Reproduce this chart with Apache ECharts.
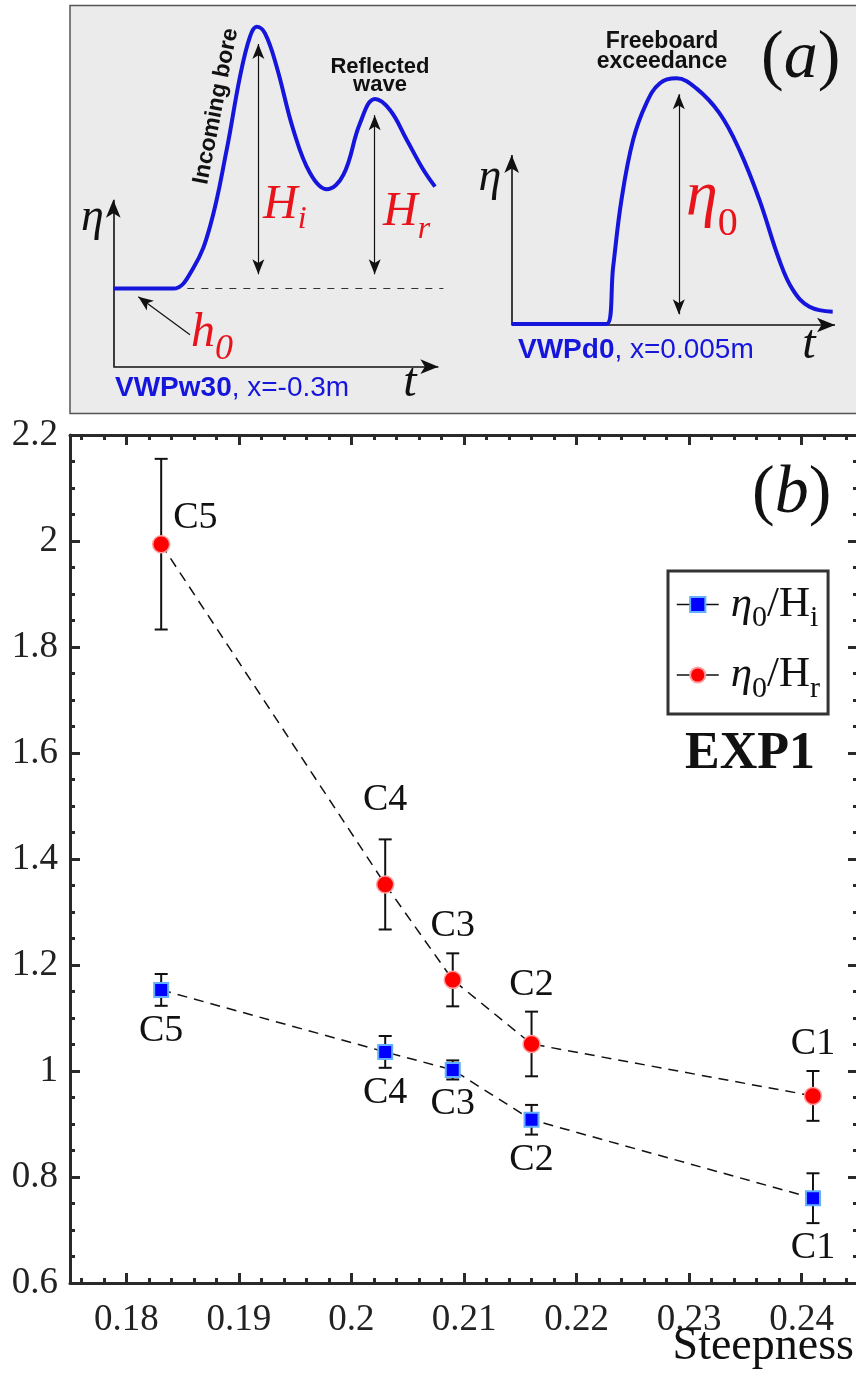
<!DOCTYPE html>
<html><head><meta charset="utf-8">
<script src="https://cdn.jsdelivr.net/npm/echarts@6/dist/echarts.min.js"></script>
<style>html,body{margin:0;padding:0;background:#fff}#c{width:856px;height:1377px}</style>
</head><body><div id="c"></div>
<script>
// ---------- data: panel (b) ----------
const cases     = ['C5', 'C4', 'C3', 'C2', 'C1'];
const steepness = [0.1831, 0.2030, 0.2090, 0.2160, 0.2410];
const ratioHr   = [1.994, 1.352, 1.172, 1.051, 0.953];
const errHr     = [0.161, 0.085, 0.050, 0.061, 0.047];
const ratioHi   = [1.153, 1.036, 1.002, 0.908, 0.760];
const errHi     = [0.030, 0.030, 0.018, 0.028, 0.047];
const xTickLabels = [0.18, 0.19, 0.20, 0.21, 0.22, 0.23, 0.24];
const yTickLabels = [0.6, 0.8, 1.0, 1.2, 1.4, 1.6, 1.8, 2.0, 2.2];
// ---------- data: panel (a) schematic curves (arbitrary units) ----------
const boreT     = [0, 10, 18, 24, 29, 34, 38, 41, 43, 45.5, 49, 54, 59, 64, 69, 74, 78.5, 83, 88, 93, 96.5];
const boreEta   = [21.3, 21.3, 21.3, 26.9, 38.2, 59.1, 79.1, 90.0, 92.7, 90.9, 81.8, 64.6, 52.8, 48.4, 52.3, 66.4, 73.0, 70.0, 61.9, 53.7, 49.1];
const exceedT   = [0, 15, 28.6, 30.6, 33.1, 36.6, 40.6, 44.7, 49.7, 55.7, 62.7, 68.7, 74.7, 80.7, 84.8, 89.8, 96.8];
const exceedEta = [0.3, 0.3, 0.3, 17.9, 38.5, 56.9, 68.2, 74.4, 75.9, 72.8, 65.1, 53.8, 38.5, 20.0, 10.8, 5.6, 4.1];

const SERIF = '"Liberation Serif","Times New Roman",serif';
const SANS = '"Liberation Sans",Arial,sans-serif';
const AX = '#2a2a2a', BLUE = '#1515dc', RED = '#e8141c', INK = '#111';
const X0 = 0.175, X1 = 0.245, Y0 = 0.6, Y1 = 2.2;

const xMinor = [], yMinor = [];
for (let v = 176; v <= 244; v += 2) if (v % 10) xMinor.push(v / 1000);
for (let v = 65; v <= 215; v += 5) if (v % 20) yMinor.push(v / 100);

const fmt = v => String(+(+v).toFixed(3));

// measuring helper for chained texts
const mctx = document.createElement('canvas').getContext('2d');
function F(size, st, wt, fam) { return (st || 'normal') + ' ' + (wt || 'normal') + ' ' + size + 'px ' + (fam || SERIF); }
function measure(t, f) { mctx.font = f; return mctx.measureText(t).width; }
function T(x, base, text, size, o) {
  o = o || {};
  const f = F(size, o.st, o.wt, o.fam);
  const al = o.align || 'left';
  return { type: 'text', z: 100, x: x, y: base - 0.34 * size, rotation: o.rot || 0,
    style: { text: text, font: f, fill: o.color || INK, align: al, textAlign: al,
      verticalAlign: 'middle', textVerticalAlign: 'middle', lineHeight: o.lh } };
}
function chain(x, pieces) {
  const out = [];
  pieces.forEach(p => {
    out.push(T(x, p.base, p.t, p.size, p));
    x += measure(p.t, F(p.size, p.st, p.wt, p.fam));
  });
  return out;
}

// ---------- error bars + case labels ----------
function makeErr(where) {
  return function (params, api) {
    const i = params.dataIndex;
    const x = api.value(0), y = api.value(1), e = api.value(2);
    const p = api.coord([x, y]), t = api.coord([x, y + e]), b = api.coord([x, y - e]);
    const cw = 6.5, ls = { stroke: INK, lineWidth: 2 };
    let lx = p[0], ly, al = 'center';
    if (where === 'above') {
      if (i === 0) { lx = p[0] + 12; ly = p[1] - 26; al = 'left'; }
      else ly = t[1] - (i === 1 ? 39 : 27);
    } else ly = b[1] + 25;
    return { type: 'group', children: [
      { type: 'line', shape: { x1: t[0], y1: t[1], x2: b[0], y2: b[1] }, style: ls },
      { type: 'line', shape: { x1: t[0] - cw, y1: t[1], x2: t[0] + cw, y2: t[1] }, style: ls },
      { type: 'line', shape: { x1: b[0] - cw, y1: b[1], x2: b[0] + cw, y2: b[1] }, style: ls },
      { type: 'text', x: lx, y: ly, style: { text: cases[i], font: F(38), fill: INK, align: al, textAlign: al, verticalAlign: 'middle', textVerticalAlign: 'middle' } }
    ] };
  };
}

// ---------- axes helpers ----------
function mainX(pos, ticks, len, label, line) {
  return { gridIndex: 0, type: 'value', min: X0, max: X1, position: pos,
    axisLine: { show: line, onZero: false, lineStyle: { color: AX, width: 3 } },
    axisTick: { show: true, inside: true, length: len, customValues: ticks, lineStyle: { color: AX, width: 3 } },
    axisLabel: label ? { show: true, customValues: xTickLabels, formatter: fmt, margin: 19, color: '#222', fontFamily: SERIF, fontSize: 37 } : { show: false },
    splitLine: { show: false } };
}
function mainY(pos, ticks, len, label, line) {
  return { gridIndex: 0, type: 'value', min: Y0, max: Y1, position: pos,
    axisLine: { show: line, onZero: false, lineStyle: { color: AX, width: 3 } },
    axisTick: { show: true, inside: true, length: len, customValues: ticks, lineStyle: { color: AX, width: 3 } },
    axisLabel: label ? { show: true, customValues: yTickLabels, formatter: fmt, margin: 12, color: '#222', fontFamily: SERIF, fontSize: 37 } : { show: false },
    splitLine: { show: false } };
}
function hiddenAxis(g) { return { gridIndex: g, type: 'value', min: 0, max: 100, show: false }; }

// ---------- schematic annotation lines ----------
function seg(a, b, s1, s2, style, size) {
  return [{ coord: a, symbol: s1, symbolSize: size, lineStyle: style }, { coord: b, symbol: s2, symbolSize: size }];
}
const axStyle = { color: INK, width: 1.6, type: 'solid' };
const arStyle = { color: INK, width: 1.2, type: 'solid' };
const leftMarks = [
  seg([0, 0], [97.5, 0], 'none', 'arrow', axStyle, [11, 18]),
  seg([0, 0], [0, 45.5], 'none', 'arrow', axStyle, [11, 18]),
  seg([18, 21.3], [99, 21.3], 'none', 'none', { color: '#333', width: 1.2, type: [7, 7] }, 1),
  seg([43.5, 88], [43.5, 25.2], 'arrow', 'arrow', arStyle, [9, 15]),
  seg([78.4, 68.6], [78.4, 25.2], 'arrow', 'arrow', arStyle, [9, 15]),
  seg([23, 8.7], [7.5, 19.1], 'none', 'arrow', arStyle, [9, 15])
];
const rightMarks = [
  seg([0, 0], [97.5, 0], 'none', 'arrow', axStyle, [11, 18]),
  seg([0, 0], [0, 52.3], 'none', 'arrow', axStyle, [11, 18]),
  seg([50.4, 71], [50.4, 3.3], 'arrow', 'arrow', arStyle, [9, 15])
];

// ---------- graphic texts ----------
const g = [
  { type: 'rect', z: -10, shape: { x: 70, y: 5.5, width: 800, height: 408 }, style: { fill: '#ebebeb', stroke: '#555', lineWidth: 1.5 } },
  T(216, 114, 'Incoming bore', 23, { wt: 'bold', fam: SANS, align: 'center', rot: 79 * Math.PI / 180 }),
  { type: 'text', z: 100, x: 380, y: 76, style: { text: 'Reflected\nwave', font: F(22, 'normal', 'bold', SANS), fill: INK, align: 'center', textAlign: 'center', verticalAlign: 'middle', textVerticalAlign: 'middle', lineHeight: 18 } },
  { type: 'text', z: 100, x: 662, y: 52, style: { text: 'Freeboard\nexceedance', font: F(23, 'normal', 'bold', SANS), fill: INK, align: 'center', textAlign: 'center', verticalAlign: 'middle', textVerticalAlign: 'middle', lineHeight: 20 } },
  ...chain(115, [{ t: 'VWPw30', base: 398, size: 28, wt: 'bold', fam: SANS, color: BLUE }, { t: ', x=-0.3m', base: 398, size: 28, fam: SANS, color: BLUE }]),
  ...chain(518, [{ t: 'VWPd0', base: 360, size: 28, wt: 'bold', fam: SANS, color: BLUE }, { t: ', x=0.005m', base: 360, size: 28, fam: SANS, color: BLUE }]),
  T(92.5, 234, 'η', 46, { st: 'italic', align: 'center' }),
  T(490, 194, 'η', 46, { st: 'italic', align: 'center' }),
  T(410, 400, 't', 48, { st: 'italic', align: 'center' }),
  T(809, 362, 't', 48, { st: 'italic', align: 'center' }),
  ...chain(263, [{ t: 'H', base: 221.7, size: 48, st: 'italic', color: RED }, { t: 'i', base: 230, size: 32, st: 'italic', color: RED }]),
  ...chain(383, [{ t: 'H', base: 229, size: 48, st: 'italic', color: RED }, { t: 'r', base: 240, size: 32, st: 'italic', color: RED }]),
  ...chain(191, [{ t: 'h', base: 350, size: 48, st: 'italic', color: RED }, { t: '0', base: 362, size: 36, st: 'italic', color: RED }]),
  ...chain(686, [{ t: 'η', base: 219, size: 64, st: 'italic', color: RED }, { t: '0', base: 238, size: 40, color: RED }]),
  ...chain(761, [{ t: '(', base: 82, size: 68 }, { t: 'a', base: 82, size: 68, st: 'italic' }, { t: ')', base: 82, size: 68 }]),
  ...chain(752, [{ t: '(', base: 517, size: 68 }, { t: 'b', base: 517, size: 68, st: 'italic' }, { t: ')', base: 517, size: 68 }]),
  T(815, 772, 'EXP1', 52, { wt: 'bold', align: 'right' }),
  T(854, 1363, 'Steepness', 46, { align: 'right' })
];

const chart = echarts.init(document.getElementById('c'), null, { renderer: 'canvas' });
chart.setOption({
  animation: false,
  backgroundColor: '#fff',
  tooltip: { show: false },
  grid: [
    { left: 70, top: 435, width: 788, height: 848, outerBoundsMode: 'none', containLabel: false },
    { left: 113.3, top: 0, width: 333.4, height: 366.7, outerBoundsMode: 'none', containLabel: false },
    { left: 511.7, top: 0, width: 331.6, height: 325, outerBoundsMode: 'none', containLabel: false }
  ],
  xAxis: [
    mainX('bottom', xTickLabels, 10, true, true),
    mainX('bottom', xMinor, 5, false, false),
    mainX('top', xTickLabels, 10, false, true),
    mainX('top', xMinor, 5, false, false),
    hiddenAxis(1), hiddenAxis(2)
  ],
  yAxis: [
    mainY('left', yTickLabels, 10, true, true),
    mainY('left', yMinor, 5, false, false),
    mainY('right', yTickLabels, 10, false, true),
    mainY('right', yMinor, 5, false, false),
    hiddenAxis(1), hiddenAxis(2)
  ],
  legend: {
    data: ['η0/Hi', 'η0/Hr'], orient: 'vertical', left: 668, top: 571,
    backgroundColor: '#fff', borderColor: '#333', borderWidth: 3, borderRadius: 0,
    padding: [12, 8, 10, 8], itemWidth: 42, itemHeight: 19, itemGap: 20, selectedMode: false,
    lineStyle: { type: 'solid', color: INK, width: 1.5 },
    formatter: n => '{e|η}{s|0}{n|/H}{s|' + (n === 'η0/Hi' ? 'i' : 'r') + '}',
    textStyle: { color: INK, rich: {
      e: { fontFamily: SERIF, fontStyle: 'italic', fontSize: 43, padding: [0, 0, 0, 7] },
      n: { fontFamily: SERIF, fontSize: 43 },
      s: { fontFamily: SERIF, fontSize: 30, padding: [28, 0, 0, 0] }
    } }
  },
  graphic: g,
  series: [
    { type: 'custom', name: 'errHr', xAxisIndex: 0, yAxisIndex: 0, z: 3, silent: true, clip: false,
      data: steepness.map((x, i) => [x, ratioHr[i], errHr[i]]), renderItem: makeErr('above') },
    { type: 'custom', name: 'errHi', xAxisIndex: 0, yAxisIndex: 0, z: 3, silent: true, clip: false,
      data: steepness.map((x, i) => [x, ratioHi[i], errHi[i]]), renderItem: makeErr('below') },
    { type: 'line', name: 'η0/Hr', xAxisIndex: 0, yAxisIndex: 0, z: 4, silent: true,
      data: steepness.map((x, i) => [x, ratioHr[i]]), symbol: 'circle', symbolSize: 17,
      itemStyle: { color: '#ff0000', borderColor: '#ff9c9c', borderWidth: 1.5 },
      lineStyle: { color: INK, width: 1.5, type: [10, 7] }, emphasis: { disabled: true } },
    { type: 'line', name: 'η0/Hi', xAxisIndex: 0, yAxisIndex: 0, z: 4, silent: true,
      data: steepness.map((x, i) => [x, ratioHi[i]]), symbol: 'rect', symbolSize: 14,
      itemStyle: { color: '#0000ff', borderColor: '#62b0ff', borderWidth: 2 },
      lineStyle: { color: INK, width: 1.5, type: [10, 7] }, emphasis: { disabled: true } },
    { type: 'line', name: 'bore', xAxisIndex: 4, yAxisIndex: 4, z: 5, silent: true, clip: false,
      data: boreT.map((t, i) => [t, boreEta[i]]), symbol: 'none', smooth: 0.4,
      lineStyle: { color: BLUE, width: 4 },
      markLine: { silent: true, animation: false, label: { show: false }, emphasis: { disabled: true }, data: leftMarks } },
    { type: 'line', name: 'exceed', xAxisIndex: 5, yAxisIndex: 5, z: 5, silent: true, clip: false,
      data: exceedT.map((t, i) => [t, exceedEta[i]]), symbol: 'none', smooth: 0.4,
      lineStyle: { color: BLUE, width: 4 },
      markLine: { silent: true, animation: false, label: { show: false }, emphasis: { disabled: true }, data: rightMarks } }
  ]
});
</script></body></html>
